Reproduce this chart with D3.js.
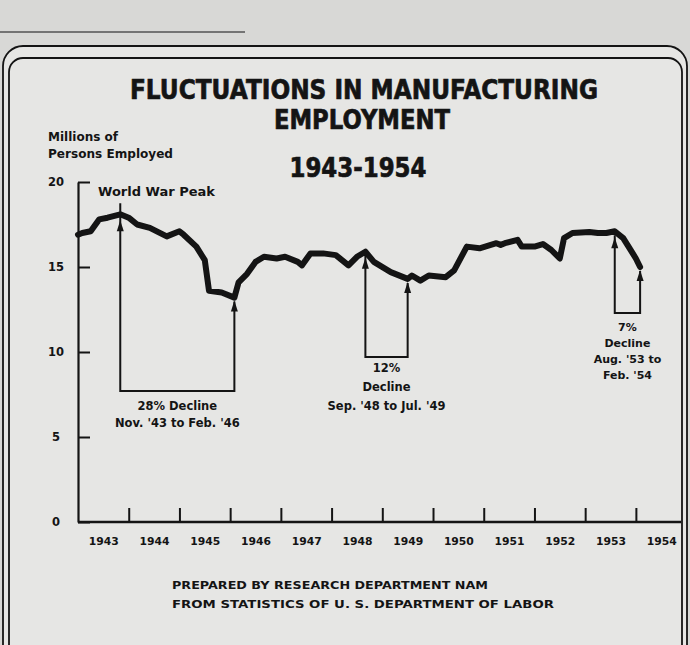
<!DOCTYPE html>
<html>
<head>
<meta charset="utf-8">
<script src="https://cdn.jsdelivr.net/npm/d3@7"></script>
<style>
  html, body { margin: 0; padding: 0; background: #d9d9d7; }
  svg { display: block; }
  text { font-family: "DejaVu Sans", sans-serif; font-weight: bold; fill: #141414; }
</style>
</head>
<body>
<svg id="chart" width="690" height="645"></svg>
<script>
// months ("YYYY-MM") and millions employed
let months = ["1943-01","1943-02","1943-04","1943-06","1943-08","1943-11","1944-01","1944-03","1944-06","1944-10",
  "1945-01","1945-02","1945-05","1945-07","1945-08","1945-11","1946-02","1946-03","1946-05","1946-07","1946-09","1946-12",
  "1947-02","1947-05","1947-06","1947-08","1947-11","1948-02","1948-05","1948-07","1948-09","1948-11",
  "1949-03","1949-07","1949-08","1949-10","1949-12","1950-04","1950-06","1950-09","1950-12",
  "1951-04","1951-05","1951-06","1951-09","1951-10","1952-01","1952-03","1952-05","1952-07","1952-08","1952-10",
  "1953-02","1953-04","1953-06","1953-08","1953-10","1953-12","1954-01","1954-02"];
let employed = [16.9,17.0,17.1,17.8,17.9,18.1,17.9,17.5,17.3,16.8,
  17.1,16.9,16.2,15.4,13.6,13.5,13.2,14.1,14.6,15.3,15.6,15.5,
  15.6,15.3,15.1,15.8,15.8,15.7,15.1,15.6,15.9,15.3,
  14.7,14.3,14.5,14.2,14.5,14.4,14.8,16.2,16.1,
  16.4,16.3,16.4,16.6,16.2,16.2,16.35,16.0,15.5,16.7,17.0,
  17.06,17.0,17.0,17.1,16.7,15.9,15.5,15.0];

let yearTicks = [1944,1945,1946,1947,1948,1949,1950,1951,1952,1953,1954];
let yearLabels = [1943,1944,1945,1946,1947,1948,1949,1950,1951,1952,1953,1954];
let valueTicks = [0,5,10,15,20];

let declineFrom = ["1943-11","1948-09","1953-08"];
let declineTo   = ["1946-02","1949-07","1954-02"];
let declineText = [
  ["28% Decline", "Nov. '43 to Feb. '46"],
  ["12%", "Decline", "Sep. '48 to Jul. '49"],
  ["7%", "Decline", "Aug. '53 to", "Feb. '54"]
];

function toYear(m) { let p = m.split("-"); return +p[0] + (+p[1] - 1) / 12; }
let series = months.map((m, i) => ({t: toYear(m), v: employed[i]}));
let valueAt = {};
months.forEach((m, i) => valueAt[m] = employed[i]);

let svg = d3.select("#chart");
let ink = "#141414";

// paper and frame
svg.append("rect").attr("x", 0).attr("y", 0).attr("width", 690).attr("height", 645).attr("fill", "#d8d8d6");
svg.append("line").attr("x1", 0).attr("x2", 245).attr("y1", 32).attr("y2", 32)
  .attr("stroke", "#333").attr("stroke-width", 1.5).attr("opacity", 0.8);
svg.append("rect").attr("x", 3).attr("y", 46).attr("width", 684).attr("height", 680).attr("rx", 20)
  .attr("fill", "#e6e6e4").attr("stroke", ink).attr("stroke-width", 1.8);
svg.append("rect").attr("x", 9).attr("y", 58).attr("width", 673).attr("height", 660).attr("rx", 14)
  .attr("fill", "none").attr("stroke", ink).attr("stroke-width", 1.8);

// titles
function title(txt, cx, by, len) {
  svg.append("text").attr("x", cx).attr("y", by).attr("text-anchor", "middle")
    .attr("font-size", 26).attr("textLength", len).attr("lengthAdjust", "spacingAndGlyphs")
    .attr("stroke", ink).attr("stroke-width", 0.7)
    .text(txt);
}
title("FLUCTUATIONS IN MANUFACTURING", 364, 99, 468);
title("EMPLOYMENT", 362, 129, 176);
title("1943-1954", 358, 177, 137);
svg.append("text").attr("x", 48).attr("y", 141).attr("font-size", 11.5)
  .attr("textLength", 70).attr("lengthAdjust", "spacingAndGlyphs").text("Millions of");
svg.append("text").attr("x", 48).attr("y", 158).attr("font-size", 11.5)
  .attr("textLength", 125).attr("lengthAdjust", "spacingAndGlyphs").text("Persons Employed");

// scales
let x = d3.scaleLinear().domain([1943, 1955]).range([78, 686.6]);
let y = d3.scaleLinear().domain([0, 20]).range([522, 182]);

// y axis: ticks point inward, labels on the left
let yAxis = svg.append("g").attr("transform", "translate(" + x(1943) + ",0)")
  .call(d3.axisLeft(y).tickValues(valueTicks).tickSizeInner(-12).tickSizeOuter(0).tickPadding(22));
yAxis.select(".domain").attr("stroke", ink).attr("stroke-width", 2.2);
yAxis.selectAll(".tick line").attr("stroke", ink).attr("stroke-width", 2);
yAxis.selectAll(".tick text").attr("text-anchor", "middle").attr("font-size", 11.5)
  .attr("font-family", "DejaVu Sans").attr("font-weight", "bold").attr("fill", ink);

// x axis: year boundary ticks pointing up
let xAxis = svg.append("g").attr("transform", "translate(0," + y(0) + ")")
  .call(d3.axisBottom(x).tickValues(yearTicks).tickSizeInner(-14).tickSizeOuter(0).tickFormat(""));
xAxis.select(".domain").attr("d", "M" + x(1943) + ",0H681").attr("stroke", ink).attr("stroke-width", 2.4);
xAxis.selectAll(".tick line").attr("stroke", ink).attr("stroke-width", 2);

// year labels centred in each year
let xLabels = svg.append("g").attr("transform", "translate(0," + (y(0) + 12) + ")")
  .call(d3.axisBottom(x).tickValues(yearLabels.map(d => d + 0.5)).tickSize(0).tickFormat(d => Math.floor(d)));
xLabels.select(".domain").remove();
xLabels.selectAll(".tick text").attr("font-size", 11).attr("font-family", "DejaVu Sans")
  .attr("font-weight", "bold").attr("fill", ink).attr("textLength", 30).attr("lengthAdjust", "spacingAndGlyphs");

// employment line
let line = d3.line().x(d => x(d.t)).y(d => y(d.v)).curve(d3.curveLinear);
svg.append("path").datum(series)
  .attr("fill", "none").attr("stroke", ink).attr("stroke-width", 6)
  .attr("stroke-linejoin", "round").attr("stroke-linecap", "round")
  .attr("d", line);

// decline brackets
let bracketBottom = [391, 357, 313];
let textTop = [410, 372, 331];
let textStep = [17, 19, 16];
let textSize = [11.5, 11.5, 11];

function arrowUp(px, tipY) {
  svg.append("path")
    .attr("d", "M" + px + "," + tipY + "L" + (px - 3.5) + "," + (tipY + 11) + "L" + (px + 3.5) + "," + (tipY + 11) + "Z")
    .attr("fill", ink);
}

declineFrom.forEach((from, i) => {
  let to = declineTo[i];
  let x1 = x(toYear(from)), x2 = x(toYear(to));
  let top1 = y(valueAt[from]), top2 = y(valueAt[to]);
  let bottom = bracketBottom[i];
  let startTop = i === 0 ? top1 - 11 : top1 + 4;
  svg.append("path")
    .attr("d", "M" + x1 + "," + startTop + "V" + bottom + "H" + x2 + "V" + (top2 + 4))
    .attr("fill", "none").attr("stroke", ink).attr("stroke-width", 2);
  arrowUp(x1, top1 + 6);
  arrowUp(x2, top2 + 3);
  let cx = (x1 + x2) / 2;
  declineText[i].forEach((s, k) => {
    svg.append("text").attr("x", cx).attr("y", textTop[i] + k * textStep[i])
      .attr("text-anchor", "middle").attr("font-size", textSize[i]).text(s);
  });
});

svg.append("text").attr("x", 98).attr("y", 196).attr("font-size", 11.5)
  .attr("textLength", 117).attr("lengthAdjust", "spacingAndGlyphs")
  .text("World War Peak");

// credit lines
svg.append("text").attr("x", 330).attr("y", 589).attr("text-anchor", "middle").attr("font-size", 11)
  .attr("textLength", 316).attr("lengthAdjust", "spacingAndGlyphs")
  .text("PREPARED BY RESEARCH DEPARTMENT NAM");
svg.append("text").attr("x", 363).attr("y", 608).attr("text-anchor", "middle").attr("font-size", 11)
  .attr("textLength", 382).attr("lengthAdjust", "spacingAndGlyphs")
  .text("FROM STATISTICS OF U. S. DEPARTMENT OF LABOR");
</script>
</body>
</html>
